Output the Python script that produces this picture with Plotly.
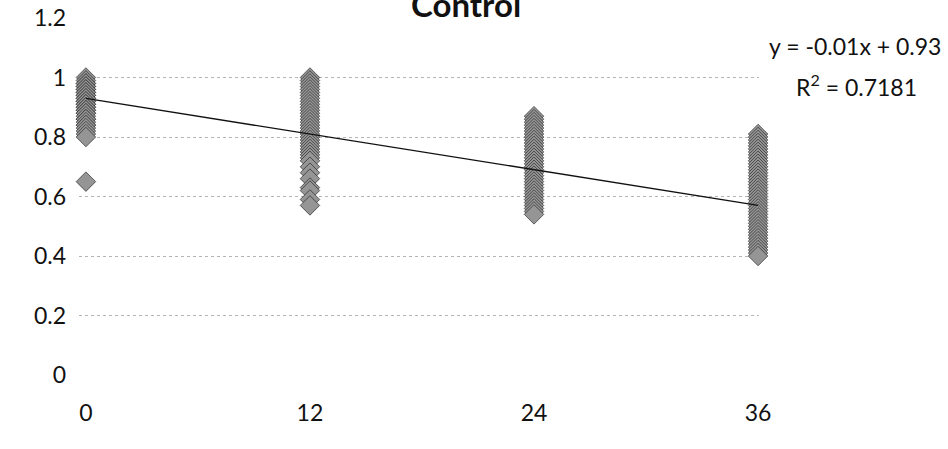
import plotly.graph_objects as go

# ---- data ----
x_ticks = [0, 12, 24, 36]
x_tick_labels = ["0", "12", "24", "36"]
y_ticks = [0, 0.2, 0.4, 0.6, 0.8, 1.0, 1.2]
y_tick_labels = ["0", "0.2", "0.4", "0.6", "0.8", "1", "1.2"]

vals_0 = [1.0, 0.99, 0.98, 0.98, 0.97, 0.97, 0.96, 0.96, 0.95, 0.95, 0.94, 0.94, 0.93,
          0.93, 0.92, 0.92, 0.91, 0.91, 0.90, 0.90, 0.89, 0.89, 0.88, 0.88, 0.87, 0.86,
          0.86, 0.85, 0.84, 0.84, 0.83, 0.82, 0.81, 0.80, 0.65]
vals_12 = [1.0, 0.99, 0.98, 0.97, 0.96, 0.95, 0.94, 0.93, 0.92, 0.91, 0.90, 0.89, 0.88,
           0.87, 0.86, 0.85, 0.84, 0.83, 0.82, 0.81, 0.80, 0.79, 0.78, 0.77, 0.76, 0.75,
           0.74, 0.73, 0.72, 0.70, 0.68, 0.66, 0.63, 0.62, 0.59, 0.57]
vals_24 = [0.87, 0.86, 0.85, 0.84, 0.83, 0.82, 0.81, 0.80, 0.79, 0.78, 0.77, 0.76, 0.75,
           0.74, 0.73, 0.72, 0.71, 0.70, 0.69, 0.68, 0.67, 0.66, 0.65, 0.64, 0.63, 0.62,
           0.61, 0.60, 0.59, 0.58, 0.57, 0.56, 0.55, 0.54]
vals_36 = [0.81, 0.80, 0.79, 0.78, 0.77, 0.76, 0.75, 0.74, 0.73, 0.72, 0.71, 0.70, 0.69,
           0.68, 0.67, 0.66, 0.65, 0.64, 0.63, 0.62, 0.61, 0.60, 0.59, 0.58, 0.57, 0.56,
           0.55, 0.54, 0.53, 0.52, 0.51, 0.50, 0.49, 0.48, 0.47, 0.46, 0.45, 0.44, 0.43,
           0.42, 0.41, 0.40]

trend_slope = -0.01
trend_intercept = 0.93
trend_x = [0, 36]
equation_text = "y = -0.01x + 0.93"
r2_text = "R<sup>2</sup> = 0.7181"
title_text = "Control"

# ---- build ----
xs, ys = [], []
for xv, arr in zip(x_ticks, [vals_0, vals_12, vals_24, vals_36]):
    xs += [xv] * len(arr)
    ys += arr

fig = go.Figure()
fig.add_trace(go.Scatter(
    x=xs, y=ys, mode="markers",
    marker=dict(symbol="diamond", size=15, color="#959595",
                line=dict(color="#2a2a2a", width=0.7)),
    cliponaxis=False, showlegend=False, hoverinfo="skip"))
fig.add_trace(go.Scatter(
    x=trend_x, y=[trend_slope * v + trend_intercept for v in trend_x],
    mode="lines", line=dict(color="#111111", width=1.4),
    cliponaxis=False, showlegend=False, hoverinfo="skip"))

L, R, T, B = 79, 189, 18, 74
PW = 948 - L - R
PH = 449 - T - B
font = "Lato, 'Open Sans', sans-serif"
fig.update_layout(
    width=948, height=449,
    margin=dict(l=L, r=R, t=T, b=B, autoexpand=False),
    paper_bgcolor="white", plot_bgcolor="white",
    font=dict(family=font, color="#111111", size=23),
    xaxis=dict(range=[-0.37, 36.05], tickvals=x_ticks, ticktext=x_tick_labels,
               showgrid=False, zeroline=False, showline=False, automargin=False,
               ticklabelstandoff=22, tickfont=dict(size=23)),
    yaxis=dict(range=[0, 1.2], tickvals=y_ticks, ticktext=y_tick_labels,
               showgrid=True, gridcolor="#b5b5b5", griddash="dot", gridwidth=1,
               zeroline=False, showline=False, automargin=False,
               ticklabelstandoff=12, tickfont=dict(size=23)),
    annotations=[
        dict(text="<b>" + title_text + "</b>", xref="paper", yref="paper",
             x=(466 - L) / PW, y=(449 - B - 4) / PH, yanchor="middle", showarrow=False,
             font=dict(size=33, family=font)),
        dict(text=equation_text, xref="paper", yref="paper",
             x=(943 - L) / PW, xanchor="right", y=(449 - B - 46) / PH, yanchor="middle",
             showarrow=False, font=dict(size=23, family=font)),
        dict(text=r2_text, xref="paper", yref="paper",
             x=(856 - L) / PW, xanchor="center", y=(449 - B - 85) / PH, yanchor="middle",
             showarrow=False, font=dict(size=23, family=font)),
    ],
)
fig.write_html("out.html", config={"displayModeBar": False},
               post_script="document.body.style.margin='0';document.body.style.overflow='hidden';")
